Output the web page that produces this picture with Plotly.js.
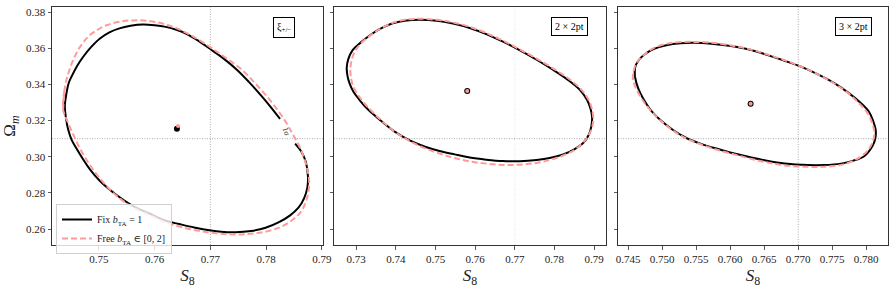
<!DOCTYPE html>
<html>
<head>
<meta charset="utf-8">
<script src="https://cdn.plot.ly/plotly-3.0.1.min.js"></script>
<style>html,body{margin:0;padding:0;background:#fff;}#chart{width:896px;height:289px;}</style>
</head>
<body>
<div id="chart"></div>
<script>
// ---- Data ----
// Panel 1: xi_{+/-}  (fixed-b_TA contour is open: gap where the contour label sits)
const p1FixS8 = [0.7852,0.7863,0.7871,0.7875,0.7874,0.7868,0.7858,0.7843,0.7823,0.7799,0.7773,0.7745,0.7719,0.7701,0.7671,0.7644,0.7620,0.7591,0.7561,0.7530,0.7502,0.7484,0.7472,0.7461,0.7451,0.7445,0.7441,0.7439,0.7442,0.7446,0.7451,0.7461,0.7472,0.7486,0.7502,0.7519,0.7537,0.7557,0.7579,0.7600,0.7620,0.7639,0.7656,0.7678,0.7701,0.7725,0.7748,0.7769,0.7790,0.7808,0.7825];
const p1FixOm = [0.3073,0.3029,0.2974,0.2893,0.2831,0.2770,0.2718,0.2676,0.2638,0.2607,0.2589,0.2582,0.2585,0.2592,0.2609,0.2628,0.2646,0.2686,0.2729,0.2793,0.2866,0.2930,0.2985,0.3040,0.3095,0.3150,0.3216,0.3278,0.3352,0.3408,0.3443,0.3502,0.3553,0.3606,0.3654,0.3688,0.3710,0.3724,0.3731,0.3727,0.3718,0.3702,0.3681,0.3642,0.3593,0.3540,0.3480,0.3414,0.3342,0.3276,0.3209];
const p1FreeS8 = [0.7436,0.7439,0.7445,0.7454,0.7466,0.7480,0.7496,0.7514,0.7537,0.7561,0.7587,0.7612,0.7635,0.7658,0.7680,0.7703,0.7729,0.7755,0.7778,0.7799,0.7819,0.7835,0.7847,0.7858,0.7867,0.7873,0.7877,0.7876,0.7871,0.7862,0.7847,0.7828,0.7805,0.7778,0.7751,0.7724,0.7698,0.7671,0.7644,0.7620,0.7591,0.7561,0.7537,0.7516,0.7496,0.7480,0.7466,0.7454,0.7444];
const p1FreeOm = [0.3260,0.3381,0.3458,0.3535,0.3606,0.3661,0.3699,0.3727,0.3747,0.3754,0.3752,0.3738,0.3716,0.3683,0.3645,0.3599,0.3544,0.3485,0.3414,0.3342,0.3265,0.3194,0.3128,0.3068,0.3002,0.2941,0.2875,0.2809,0.2749,0.2694,0.2650,0.2614,0.2590,0.2576,0.2570,0.2573,0.2581,0.2595,0.2614,0.2637,0.2677,0.2720,0.2771,0.2831,0.2903,0.2974,0.3046,0.3123,0.3194];
// Panel 2: 2x2pt
const p2FixS8 = [0.7276,0.7278,0.7283,0.7293,0.7308,0.7328,0.7359,0.7397,0.7435,0.7472,0.7510,0.7548,0.7586,0.7628,0.7670,0.7713,0.7755,0.7788,0.7822,0.7849,0.7873,0.7887,0.7893,0.7895,0.7891,0.7882,0.7864,0.7834,0.7797,0.7756,0.7713,0.7670,0.7628,0.7586,0.7544,0.7503,0.7460,0.7422,0.7392,0.7359,0.7333,0.7311,0.7291,0.7280];
const p2FixOm = [0.3489,0.3447,0.3407,0.3359,0.3315,0.3265,0.3205,0.3139,0.3090,0.3057,0.3032,0.3013,0.2996,0.2984,0.2976,0.2975,0.2982,0.2993,0.3013,0.3040,0.3077,0.3123,0.3168,0.3216,0.3265,0.3315,0.3370,0.3425,0.3480,0.3535,0.3588,0.3636,0.3678,0.3712,0.3736,0.3752,0.3758,0.3752,0.3738,0.3705,0.3669,0.3631,0.3590,0.3540];
const p2FreeS8 = [0.7285,0.7287,0.7293,0.7306,0.7326,0.7356,0.7394,0.7435,0.7472,0.7510,0.7548,0.7586,0.7628,0.7670,0.7713,0.7755,0.7788,0.7822,0.7852,0.7877,0.7892,0.7898,0.7895,0.7886,0.7867,0.7837,0.7799,0.7757,0.7713,0.7670,0.7628,0.7586,0.7544,0.7503,0.7460,0.7422,0.7392,0.7359,0.7333,0.7311,0.7296,0.7288];
const p2FreeOm = [0.3480,0.3436,0.3386,0.3337,0.3282,0.3216,0.3144,0.3087,0.3048,0.3018,0.2993,0.2974,0.2962,0.2955,0.2956,0.2966,0.2982,0.3007,0.3040,0.3090,0.3144,0.3205,0.3260,0.3315,0.3373,0.3430,0.3485,0.3540,0.3593,0.3642,0.3684,0.3718,0.3743,0.3757,0.3763,0.3757,0.3741,0.3705,0.3666,0.3625,0.3579,0.3529];
// Panel 3: 3x2pt
const p3FixS8 = [0.7460,0.7460,0.7465,0.7474,0.7487,0.7506,0.7527,0.7548,0.7572,0.7606,0.7631,0.7655,0.7679,0.7704,0.7729,0.7753,0.7773,0.7792,0.7804,0.7810,0.7814,0.7813,0.7809,0.7797,0.7780,0.7763,0.7738,0.7714,0.7680,0.7654,0.7631,0.7606,0.7582,0.7558,0.7537,0.7517,0.7499,0.7484,0.7473,0.7465];
const p3FixOm = [0.3443,0.3491,0.3532,0.3565,0.3595,0.3617,0.3628,0.3630,0.3625,0.3609,0.3590,0.3562,0.3532,0.3498,0.3455,0.3407,0.3356,0.3297,0.3249,0.3199,0.3145,0.3095,0.3058,0.3003,0.2977,0.2962,0.2954,0.2954,0.2963,0.2978,0.2996,0.3018,0.3043,0.3070,0.3101,0.3145,0.3197,0.3254,0.3315,0.3375];
const p3FreeS8 = [0.7457,0.7458,0.7463,0.7473,0.7486,0.7505,0.7527,0.7548,0.7572,0.7606,0.7631,0.7655,0.7679,0.7704,0.7729,0.7753,0.7773,0.7790,0.7802,0.7809,0.7812,0.7809,0.7801,0.7785,0.7763,0.7738,0.7714,0.7680,0.7654,0.7631,0.7606,0.7582,0.7558,0.7537,0.7517,0.7498,0.7482,0.7470,0.7462];
const p3FreeOm = [0.3425,0.3474,0.3524,0.3562,0.3598,0.3623,0.3634,0.3635,0.3631,0.3612,0.3592,0.3565,0.3535,0.3499,0.3455,0.3405,0.3353,0.3293,0.3241,0.3183,0.3128,0.3079,0.3029,0.2985,0.2955,0.2945,0.2944,0.2952,0.2969,0.2988,0.3013,0.3037,0.3067,0.3098,0.3142,0.3199,0.3260,0.3320,0.3375];
// Best-fit points [S8, Omega_m]
const bestFix = [[0.7640,0.3155],[0.7580,0.3364],[0.7630,0.3293]];
const bestFree = [[0.7642,0.3170],[0.7580,0.3364],[0.7630,0.3293]];
// Fiducial values
const fidS8 = 0.77, fidOm = 0.31;
const panelLabels = ["ξ<sub>+/−</sub>", "2 × 2pt", "3 × 2pt"];
const legendNames = ["Fix <i>b</i><sub>TA</sub> = 1", "Free <i>b</i><sub>TA</sub> ∈ [0, 2]"];
const contourLabel = "1σ";
const xRanges = [[0.7416,0.7902],[0.7244,0.7930],[0.7435,0.7832]];
const xDticks = [0.01,0.01,0.005];
const xFormats = [".2f",".2f",".3f"];
const yRange = [0.2512,0.3828];

const fixColor = "#000000", freeColor = "#ff9a9a";
const fixS8 = [p1FixS8,p2FixS8,p3FixS8], fixOm=[p1FixOm,p2FixOm,p3FixOm];
const freeS8 = [p1FreeS8,p2FreeS8,p3FreeS8], freeOm=[p1FreeOm,p2FreeOm,p3FreeOm];
const fixClosed = [false,true,true];

// closed contours: repeat the first two points so the spline joins smoothly
function wrap(a, closed){ return closed ? a.concat([a[0],a[1]]) : a; }

const traces = [];
for (let i=0;i<3;i++){
  const xa = i===0?'x':'x'+(i+1), ya = i===0?'y':'y'+(i+1);
  traces.push({x:wrap(fixS8[i],fixClosed[i]), y:wrap(fixOm[i],fixClosed[i]), xaxis:xa, yaxis:ya, mode:'lines', type:'scatter',
    line:{color:fixColor,width:2,shape:'spline',smoothing:1}, name:legendNames[0], showlegend:i===0, legendgroup:'fix'});
  traces.push({x:wrap(freeS8[i],true), y:wrap(freeOm[i],true), xaxis:xa, yaxis:ya, mode:'lines', type:'scatter',
    line:{color:freeColor,width:2,dash:'6px,3px',shape:'spline',smoothing:1}, name:legendNames[1], showlegend:i===0, legendgroup:'free'});
  traces.push({x:[bestFix[i][0]], y:[bestFix[i][1]], xaxis:xa, yaxis:ya, mode:'markers', type:'scatter',
    marker:{color:fixColor,size:6}, showlegend:false, hoverinfo:'skip'});
  traces.push({x:[bestFree[i][0]], y:[bestFree[i][1]], xaxis:xa, yaxis:ya, mode:'markers', type:'scatter',
    marker:{color:freeColor,size:4}, showlegend:false, hoverinfo:'skip'});
}

const W=896,H=289;
const serif = "Liberation Serif, DejaVu Serif, serif";
const xDomPx = [[52,323],[334,606],[618,888]];
const yDom = [1-245/H, 1-7/H];
const boxX = [0.897, 0.934, 0.941];
const tickFont = {family:serif, size:11, color:"#222"};
const layout = {
  width:W, height:H, margin:{l:0,r:0,t:0,b:0}, paper_bgcolor:'#fff', plot_bgcolor:'#fff',
  showlegend:true,
  legend:{x:56/W, y:1-204/H, xanchor:'left', yanchor:'top', bgcolor:'rgba(255,255,255,0.8)',
    bordercolor:'#d0d0d0', borderwidth:1, font:{family:serif, size:10, color:'#222'},
    tracegroupgap:0, itemwidth:30},
  shapes:[], annotations:[]
};
for (let i=0;i<3;i++){
  const sfx = i===0?'':String(i+1);
  layout['xaxis'+sfx] = {domain:[xDomPx[i][0]/W, xDomPx[i][1]/W], range:xRanges[i], anchor:'y'+sfx,
    dtick:xDticks[i], tick0:0, tickformat:xFormats[i], ticks:'outside', ticklen:3.5, tickwidth:0.8, tickcolor:'#333',
    showline:true, mirror:true, linecolor:'#333', linewidth:1, showgrid:false, zeroline:false,
    tickfont:tickFont, automargin:false,
    title:{text:'<i>S</i><sub>8</sub>', font:{family:serif, size:17, color:'#222'}, standoff:5}};
  layout['yaxis'+sfx] = {domain:yDom, range:yRange, anchor:'x'+sfx, dtick:0.02, tick0:0, tickformat:'.2f',
    ticks:'outside', ticklen:3.5, tickwidth:0.8, tickcolor:'#333', showticklabels:i===0,
    showline:true, mirror:true, linecolor:'#333', linewidth:1, showgrid:false, zeroline:false,
    tickfont:tickFont, automargin:false,
    title: i===0 ? {text:'Ω<sub><i>m</i></sub>', font:{family:serif, size:17, color:'#222'}, standoff:7} : {text:''}};
  if (i>0) layout['yaxis'+sfx].matches='y';
  layout.shapes.push({type:'line', xref:'x'+sfx, yref:'y'+sfx+' domain', x0:fidS8, x1:fidS8, y0:0, y1:1,
    line:{color: i===1 ? 'rgba(160,160,160,0.35)' : 'rgba(140,140,140,0.9)', width:0.8, dash:'1px,1.5px'}, layer:'below'});
  layout.shapes.push({type:'line', xref:'x'+sfx+' domain', yref:'y'+sfx, x0:0, x1:1, y0:fidOm, y1:fidOm,
    line:{color:'rgba(140,140,140,0.9)', width:0.8, dash:'1px,1.5px'}, layer:'below'});
  layout.annotations.push({xref:'x'+sfx+' domain', yref:'y'+sfx+' domain', x:boxX[i], y:0.958, xanchor:'right', yanchor:'top',
    text:panelLabels[i], showarrow:false, bordercolor:'#000', borderwidth:1, borderpad:3, bgcolor:'#fff',
    font:{family:serif, size:10, color:'#000'}});
}
// contour label in panel 1
layout.annotations.push({xref:'x', yref:'y', x:0.7836, y:0.3140, text:contourLabel, showarrow:false, textangle:72,
  font:{family:serif, size:8, color:'#333'}});

Plotly.newPlot('chart', traces, layout, {displayModeBar:false, staticPlot:true});
</script>
</body>
</html>
